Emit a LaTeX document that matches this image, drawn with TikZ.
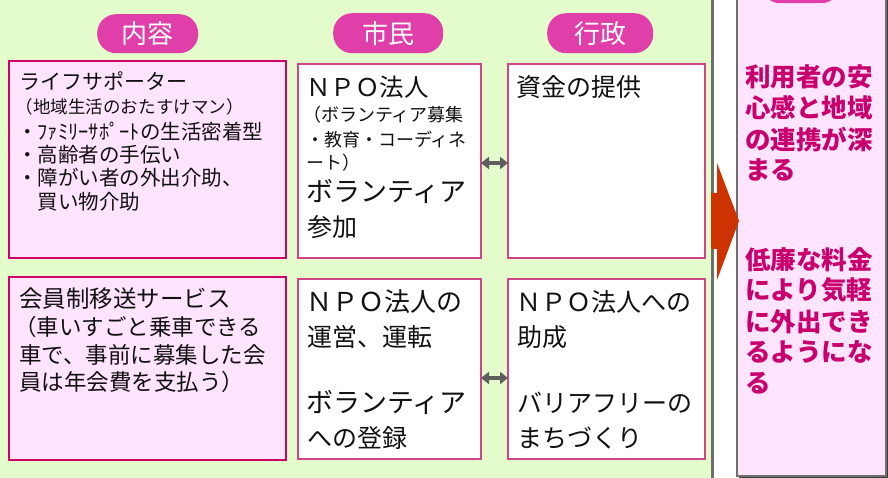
\documentclass[tikz,border=0pt]{standalone}
\usepackage{fontspec}
\setmainfont{Noto Sans CJK JP}
\usetikzlibrary{arrows.meta}
\definecolor{bggreen}{HTML}{E4FCCC}
\definecolor{boxpink}{HTML}{FFE4FE}
\definecolor{boxborder}{HTML}{CC0066}
\definecolor{midborder}{HTML}{D04488}
\definecolor{pillc}{HTML}{E03EA8}
\definecolor{sepgray}{HTML}{6E6E6E}
\definecolor{resultc}{HTML}{C8006E}
\definecolor{arrowc}{HTML}{CC3300}
\definecolor{dblc}{HTML}{5E5E5E}
\definecolor{textc}{HTML}{111111}
\begin{document}
\begin{tikzpicture}[x=1pt,y=-1pt,
  pinkbox/.style={draw=boxborder, line width=2pt, fill=boxpink, anchor=north west, inner sep=0pt, outer sep=0pt},
  whitebox/.style={draw=midborder, line width=1.2pt, fill=white, anchor=north west, inner sep=0pt, outer sep=0pt},
  pill/.style={fill=pillc, rounded corners=19pt, anchor=north west, inner sep=0pt, text=white, font=\fontsize{26}{26}\selectfont},
  txt/.style={anchor=base west, inner sep=0pt, outer sep=0pt, text=textc},
  res/.style={anchor=base west, inner sep=0pt, outer sep=0pt, text=resultc, font=\fontsize{25.5}{25.5}\selectfont\bfseries},
  dbl/.style={draw=dblc, line width=4pt, {Triangle[width=12pt,length=8pt]}-{Triangle[width=12pt,length=8pt]}}
]
\useasboundingbox (0,0) rectangle (888,478);
\clip (0,0) rectangle (888,478);
\fill[white] (0,0) rectangle (888,478);
\fill[bggreen] (0,0) rectangle (711,478);
\draw[sepgray, line width=3pt] (712.5,0) -- (712.5,478);

% result column
\fill[black!75] (739,-8) rectangle (888,477.5);
\node[draw=sepgray, line width=1.5pt, fill=boxpink, anchor=north west, inner sep=0pt, minimum width=149pt, minimum height=485pt] (rc) at (736,-10) {};
\node[pill, minimum width=79pt, minimum height=40pt] (p4) at (761,-37) {};

% headers
\node[pill, minimum width=101pt, minimum height=39pt] (p1) at (97,14) {内容};
\node[pill, minimum width=110pt, minimum height=40pt] (p2) at (333,13) {市民};
\node[pill, minimum width=106pt, minimum height=40pt] (p3) at (547,13) {行政};

% boxes
\node[pinkbox, minimum width=277pt, minimum height=197pt] (c1) at (9,61) {};
\node[pinkbox, minimum width=277pt, minimum height=183pt] (c2) at (9,277) {};
\node[whitebox, minimum width=183pt, minimum height=194pt] (m1) at (298,64) {};
\node[whitebox, minimum width=197pt, minimum height=194pt] (r1) at (508,64) {};
\node[whitebox, minimum width=183pt, minimum height=180pt] (m2) at (298,279) {};
\node[whitebox, minimum width=197pt, minimum height=180pt] (r2) at (508,279) {};

% texts box c1
\node[txt, font=\fontsize{21}{21}\selectfont] (c1a) at (19,90) {ライフサポーター};
\node[txt, font=\fontsize{17.5}{17.5}\selectfont] (c1b) at (16,113.6) {（地域生活のおたすけマン）};
\node[txt, font=\fontsize{20.5}{20.5}\selectfont] (c1c) at (17,139.6) {・ﾌｧﾐﾘｰｻﾎﾟｰﾄの生活密着型};
\node[txt, font=\fontsize{20.5}{20.5}\selectfont] (c1d) at (17,162.6) {・高齢者の手伝い};
\node[txt, font=\fontsize{20.5}{20.5}\selectfont] (c1e) at (17,185.6) {・障がい者の外出介助、};
\node[txt, font=\fontsize{20.5}{20.5}\selectfont] (c1f) at (17,209.6) {　買い物介助};

% texts box c2
\node[txt, font=\fontsize{23.5}{23.5}\selectfont] (c2a) at (19,307) {会員制移送サービス};
\node[txt, font=\fontsize{22.5}{22.5}\selectfont] (c2b) at (14,335.5) {（車いすごと乗車できる};
\node[txt, font=\fontsize{22.5}{22.5}\selectfont] (c2c) at (19,363.5) {車で、事前に募集した会};
\node[txt, font=\fontsize{22.5}{22.5}\selectfont] (c2d) at (19,390.5) {員は年会費を支払う）};

% texts m1
\node[txt, font=\fontsize{24.5}{24.5}\selectfont] (m1a) at (306,96.5) {ＮＰＯ法人};
\node[txt, font=\fontsize{18}{18}\selectfont] (m1b) at (303,121.8) {（ボランティア募集};
\node[txt, font=\fontsize{18}{18}\selectfont] (m1c) at (306,146.8) {・教育・コーディネ};
\node[txt, font=\fontsize{18}{18}\selectfont] (m1d) at (306,169.8) {ート）};
\node[txt, font=\fontsize{27}{27}\selectfont] (m1e) at (306,202) {ボランティア};
\node[txt, font=\fontsize{25}{25}\selectfont] (m1f) at (307,236.5) {参加};

% texts r1
\node[txt, font=\fontsize{25}{25}\selectfont] (r1a) at (516,96.5) {資金の提供};

% texts m2
\node[txt, font=\fontsize{26}{26}\selectfont] (m2a) at (306,311.5) {ＮＰＯ法人の};
\node[txt, font=\fontsize{25}{25}\selectfont] (m2b) at (307,346.5) {運営、運転};
\node[txt, font=\fontsize{27}{27}\selectfont] (m2c) at (306,412.5) {ボランティア};
\node[txt, font=\fontsize{25}{25}\selectfont] (m2d) at (307,447.5) {への登録};

% texts r2
\node[txt, font=\fontsize{25}{25}\selectfont] (r2a) at (516,311.5) {ＮＰＯ法人への};
\node[txt, font=\fontsize{25}{25}\selectfont] (r2b) at (517,346.5) {助成};
\node[txt, font=\fontsize{25}{25}\selectfont] (r2c) at (517,412.5) {バリアフリーの};
\node[txt, font=\fontsize{25}{25}\selectfont] (r2d) at (517,447.5) {まちづくり};

% result texts
\node[res] (t1) at (745,86.5) {利用者の安};
\node[res] (t2) at (745,117.5) {心感と地域};
\node[res] (t3) at (745,149.5) {の連携が深};
\node[res] (t4) at (745,179.5) {まる};
\node[res] (t5) at (745,269.5) {低廉な料金};
\node[res] (t6) at (745,299.5) {により気軽};
\node[res] (t7) at (745,331.5) {に外出でき};
\node[res] (t8) at (745,361.5) {るようにな};
\node[res] (t9) at (745,392.5) {る};

% double arrows
\draw[dbl] ([yshift=-2pt]m1.east) -- ([yshift=-2pt]m1.east -| r1.west);
\draw[dbl] ([yshift=-9pt]m2.east) -- ([yshift=-9pt]m2.east -| r2.west);

% big arrow
\fill[arrowc] (711,193) -- (717,193) -- (717,163) -- (739,221) -- (717,280) -- (717,249) -- (711,249) -- cycle;
\end{tikzpicture}
\end{document}
